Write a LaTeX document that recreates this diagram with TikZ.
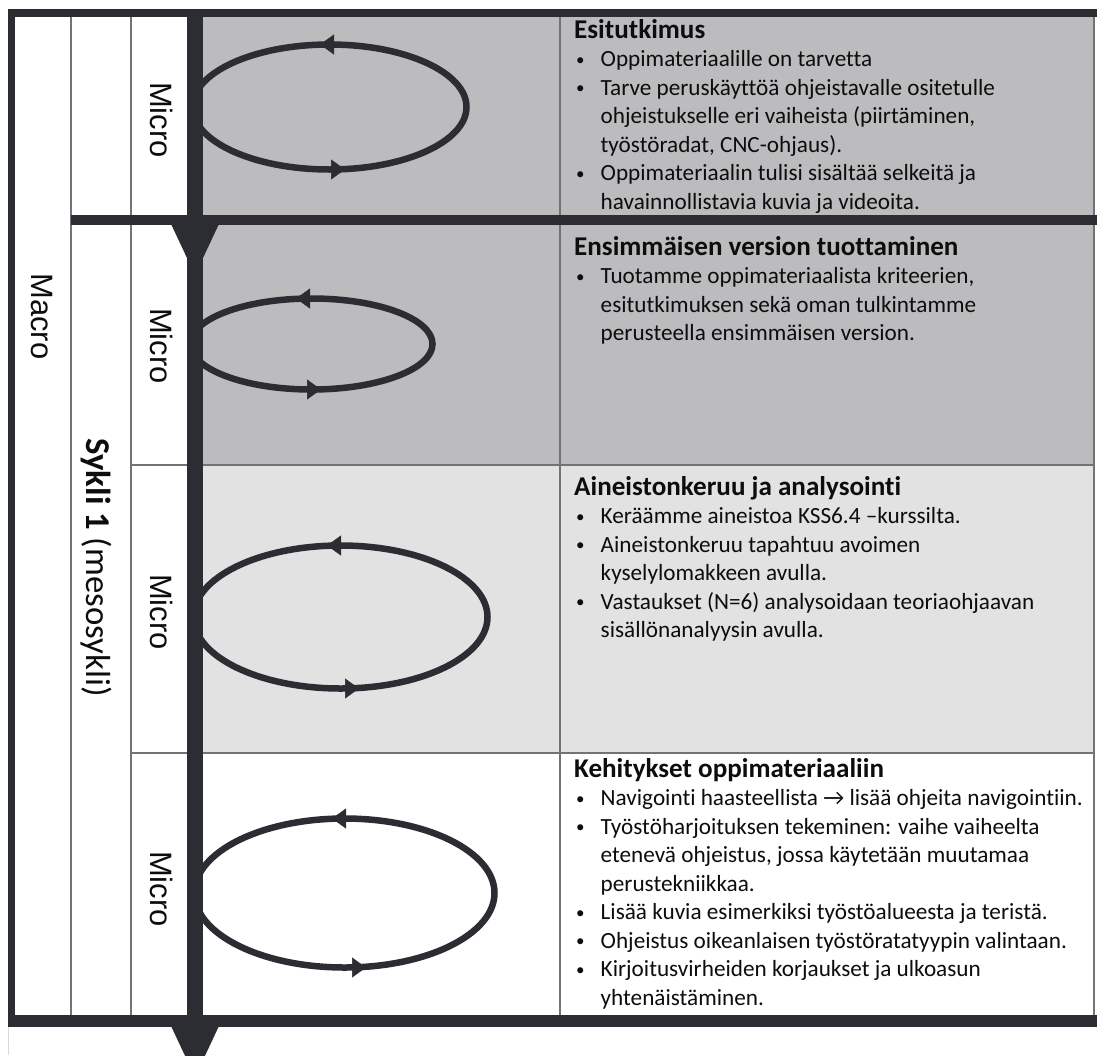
\documentclass[tikz,border=0pt]{standalone}
\usepackage{fontspec}
\setmainfont{Carlito}[Ligatures={NoCommon,NoDiscretionary}]
\newfontfamily\arialf{Liberation Sans}
\usetikzlibrary{arrows.meta}
\definecolor{dk}{RGB}{43,45,51}
\definecolor{gfill}{RGB}{188,188,190}
\definecolor{lfill}{RGB}{226,226,226}
\definecolor{thinc}{RGB}{115,115,115}
\definecolor{txt}{RGB}{13,13,13}
\newcommand{\bul}[1]{\par\hangindent=26.5pt\hangafter=1\noindent\hspace*{2pt}\makebox[24.5pt][l]{\fontsize{17pt}{28.5pt}\selectfont\raisebox{1.5pt}{•}}#1}
\newcommand{\hd}[1]{{\fontsize{27.1pt}{28.5pt}\selectfont\bfseries #1}}
\tikzset{
  thinline/.style={draw=thinc, line width=1.6pt},
  ell/.style={draw=dk, line width=6.5pt},
  cyctip/.style={draw=dk, fill=dk, line width=0.5pt, -{Triangle[length=14pt,width=20pt]}},
  txtblock/.style={anchor=base west, inner sep=0pt, text=txt},
  vlabel/.style={rotate=-90, inner sep=0pt, text=txt},
  microlabel/.style={vlabel, font=\arialf\fontsize{30.9pt}{36pt}\selectfont},
}
\begin{document}
\begin{tikzpicture}[x=1pt,y=-1pt]
\useasboundingbox (0,0) rectangle (1097,1055);
\clip (0,0) rectangle (1097,1055);
% fills
\fill[white] (0,0) rectangle (1097,1055);
\fill[gfill] (195,17) rectangle (1094,215);
\fill[gfill] (195,225) rectangle (1094,465);
\fill[lfill] (195,465) rectangle (1094,753);
% thin lines
\draw[thinline] (71,17) -- (71,1015);
\draw[thinline] (131,17) -- (131,1027);
\draw[thinline] (131,465) -- (1094,465);
\draw[thinline] (131,753) -- (1094,753);
\draw[thinline] (560,17) -- (560,1015);
\draw[thinline] (1094,17) -- (1094,1015);
\draw[draw=black!15, line width=1pt] (8.5,1027) -- (8.5,1055);
% micro cycles
\draw[ell] (329.5,107) ellipse [x radius=137, y radius=62.5];
\draw[cyctip] (334,44.5) -- (320,44.5);
\draw[cyctip] (329,169.5) -- (345,169.5);
\draw[ell] (311.5,344) ellipse [x radius=121, y radius=45.5];
\draw[cyctip] (311,298.5) -- (296,298.5);
\draw[cyctip] (307,389.5) -- (321,389.5);
\draw[ell] (340.5,617) ellipse [x radius=147, y radius=71.5];
\draw[cyctip] (343,545.5) -- (327,545.5);
\draw[cyctip] (343,688.5) -- (359,688.5);
\draw[ell] (344.5,893) ellipse [x radius=150, y radius=74.5];
\draw[cyctip] (346,818.5) -- (332,818.5);
\draw[cyctip] (350,967.5) -- (366,967.5);
% thick frame
\fill[dk] (8,9) rectangle (1097,17);
\fill[dk] (8,9) rectangle (15,1027);
\fill[dk] (71,215) rectangle (1097,225);
\fill[dk] (8,1015) rectangle (1097,1027);
\fill[dk] (187,9) rectangle (203,1027);
\fill[dk] (171.5,225) -- (218.5,225) -- (195,275) -- cycle;
\fill[dk] (171.5,1027) -- (218.5,1027) -- (195,1077) -- cycle;
% vertical labels
\node[microlabel] (mac) at (41.5,316.5) {Macro};
\node[vlabel, font=\fontsize{34.8pt}{40pt}\selectfont] (syk) at (96.5,567.5) {\textbf{Sykli 1} (mesosykli)};
\node[microlabel] (mi1) at (161.5,120) {Micro};
\node[microlabel] (mi2) at (161.5,346) {Micro};
\node[microlabel] (mi3) at (161.5,612) {Micro};
\node[microlabel] (mi4) at (161.5,889) {Micro};
% text blocks
\node[txtblock] (t1) at (574,38) {\begin{minipage}[t]{560pt}\fontsize{23.2pt}{28.5pt}\selectfont\raggedright
\hd{Esitutkimus}
\bul{Oppimateriaalille on tarvetta}
\bul{Tarve peruskäyttöä ohjeistavalle ositetulle\newline ohjeistukselle eri vaiheista (piirtäminen,\newline työstöradat, CNC-ohjaus).}
\bul{Oppimateriaalin tulisi sisältää selkeitä ja\newline havainnollistavia kuvia ja videoita.}
\end{minipage}};
\node[txtblock] (t2) at (574,255) {\begin{minipage}[t]{560pt}\fontsize{23.2pt}{28.5pt}\selectfont\raggedright
\hd{Ensimmäisen version tuottaminen}
\bul{Tuotamme oppimateriaalista kriteerien,\newline esitutkimuksen sekä oman tulkintamme\newline perusteella ensimmäisen version.}
\end{minipage}};
\node[txtblock] (t3) at (574,495) {\begin{minipage}[t]{560pt}\fontsize{23.2pt}{28.5pt}\selectfont\raggedright
\hd{Aineistonkeruu ja analysointi}
\bul{Keräämme aineistoa KSS6.4 –kurssilta.}
\bul{Aineistonkeruu tapahtuu avoimen\newline kyselylomakkeen avulla.}
\bul{Vastaukset (N=6) analysoidaan teoriaohjaavan\newline sisällönanalyysin avulla.}
\end{minipage}};
\node[txtblock] (t4) at (574,777) {\begin{minipage}[t]{560pt}\fontsize{23.2pt}{28.5pt}\selectfont\raggedright
\hd{Kehitykset oppimateriaaliin}
\bul{Navigointi haasteellista → lisää ohjeita navigointiin.}
\bul{Työstöharjoituksen tekeminen: vaihe vaiheelta\newline etenevä ohjeistus, jossa käytetään muutamaa\newline perustekniikkaa.}
\bul{Lisää kuvia esimerkiksi työstöalueesta ja teristä.}
\bul{Ohjeistus oikeanlaisen työstöratatyypin valintaan.}
\bul{Kirjoitusvirheiden korjaukset ja ulkoasun\newline yhtenäistäminen.}
\end{minipage}};
\end{tikzpicture}
\end{document}
